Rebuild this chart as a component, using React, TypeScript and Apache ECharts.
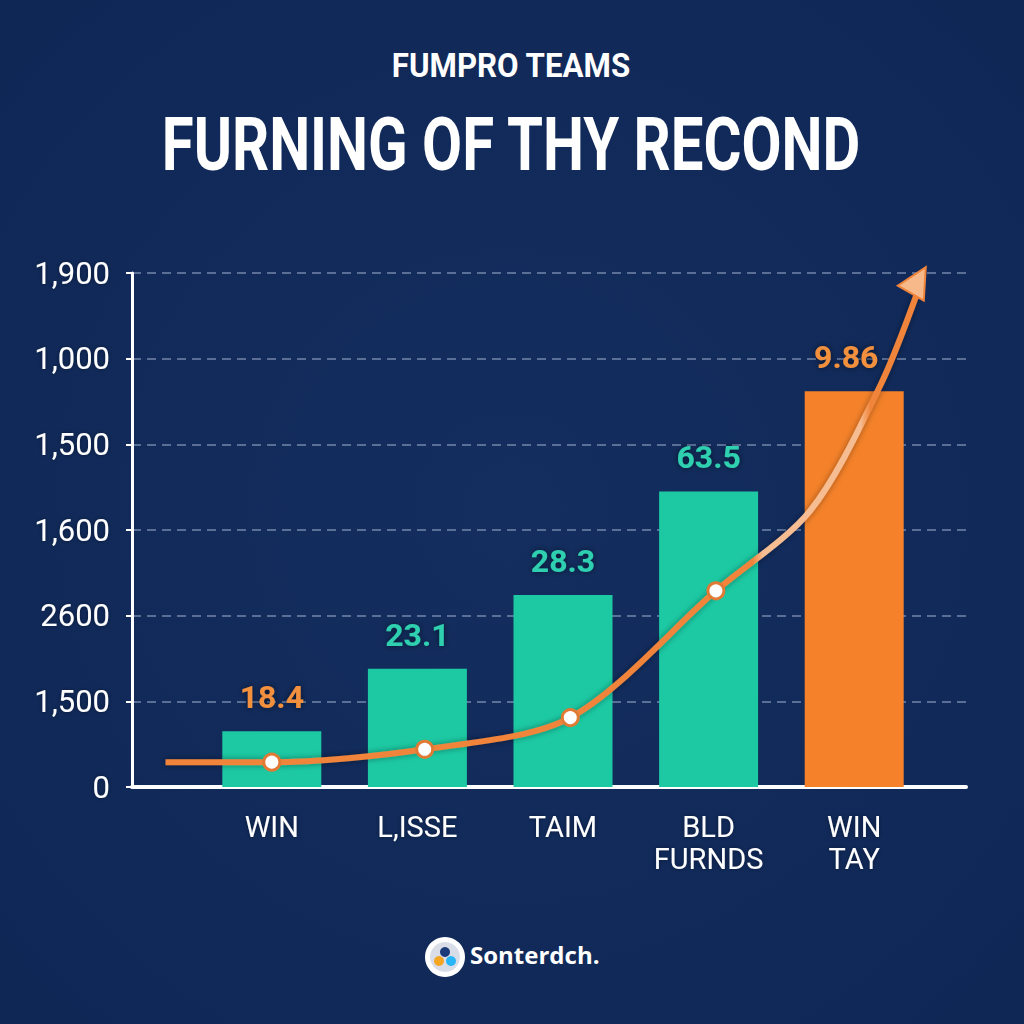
import React, { useEffect, useRef } from "react";
import * as echarts from "echarts";

const categories = ["WIN", "L,ISSE", "TAIM", "BLD\nFURNDS", "WIN\nTAY"];
const yTickLabels = ["0", "1,500", "2600", "1,600", "1,500", "1,000", "1,900"];
const barValues = [0.65, 1.38, 2.24, 3.45, 4.62];
const barLabels = ["18.4", "23.1", "28.3", "63.5", "9.86"];
const barColors = ["#1cc9a3", "#1cc9a3", "#1cc9a3", "#1cc9a3", "#f5822a"];
const labelColors = ["#f2903d", "#2fd0b0", "#2fd0b0", "#2fd0b0", "#f2903d"];
// trend curve points: [x position in category units (0 = first bar), y value]
const trendX = [-0.73, 0, 1.05, 2.05, 3.05, 3.7, 4.18, 4.44];
const trendY = [0.29, 0.29, 0.44, 0.81, 2.29, 3.23, 4.69, 5.8];
const markerIdx = [1, 2, 3, 4];

const FONT = "Roboto, 'Noto Sans', sans-serif";

export default function App() {
  const ref = useRef<HTMLDivElement>(null);
  useEffect(() => {
    document.body.style.margin = "0";
    const chart = echarts.init(ref.current!, null, { renderer: "svg" });
    const n = trendX.length;
    const trendData = trendX.map((x, i) => {
      const item: any = { value: [x, trendY[i]] };
      if (markerIdx.includes(i)) {
        item.symbol = "circle";
        item.symbolSize = 16;
      } else if (i === n - 1) {
        item.symbol = "triangle";
        item.symbolSize = [30, 30];
        item.symbolRotate = -30;
        item.symbolOffset = [0, -10];
        item.itemStyle = { color: "#f7b98a", borderColor: "#f0843a", borderWidth: 2 };
      } else {
        item.symbol = "none";
      }
      return item;
    });
    // value axis on grid 0 aligned so that integer x hits category centres of grid 1
    const gridL = 132;
    const gridW = 1024 - 132 - 58;
    const catL = 199;
    const catW = 1024 - 199 - 97;
    const step = catW / categories.length;
    const xMin = -(catL + step / 2 - gridL) / step;
    const xMax = xMin + gridW / step;

    const orange = "#f0843a";
    const peach = "#f7bd92";
    const option: any = {
      animation: false,
      backgroundColor: {
        type: "radial",
        x: 0.5,
        y: 0.5,
        r: 0.8,
        colorStops: [
          { offset: 0, color: "#132e5f" },
          { offset: 1, color: "#0f2654" },
        ],
      },
      grid: [
        { left: gridL, right: 58, top: 273, bottom: 237 },
        { left: catL, right: 97, top: 273, bottom: 237 },
      ],
      xAxis: [
        {
          gridIndex: 0,
          type: "value",
          min: xMin,
          max: xMax,
          axisLine: { show: true, onZero: false, lineStyle: { color: "#ffffff", width: 4 } },
          axisTick: { show: false },
          axisLabel: { show: false },
          splitLine: { show: false },
        },
        {
          gridIndex: 1,
          type: "category",
          data: categories,
          axisLine: { show: false },
          axisTick: { show: false },
          axisLabel: {
            interval: 0,
            color: "#ffffff",
            fontFamily: FONT,
            fontSize: 29,
            lineHeight: 32,
            margin: 24,
            verticalAlign: "top",
            textShadowColor: "rgba(0,0,0,0.4)",
            textShadowBlur: 4,
          },
        },
      ],
      yAxis: [
        {
          gridIndex: 0,
          type: "value",
          min: 0,
          max: 6,
          interval: 1,
          axisLine: { show: true, onZero: false, lineStyle: { color: "#ffffff", width: 3 } },
          axisTick: { show: true, length: 6, lineStyle: { color: "#ffffff", width: 2 } },
          axisLabel: {
            color: "#ffffff",
            fontFamily: FONT,
            fontSize: 31,
            margin: 22,
            formatter: (v: number) => yTickLabels[Math.round(v)] ?? "",
            textShadowColor: "rgba(0,0,0,0.4)",
            textShadowBlur: 4,
          },
          splitLine: {
            show: true,
            lineStyle: { color: "#7487ab", width: 1.5, type: [9, 6] },
          },
        },
        {
          gridIndex: 1,
          type: "value",
          min: 0,
          max: 6,
          show: false,
          splitLine: { show: false },
        },
      ],
      series: [
        {
          type: "bar",
          xAxisIndex: 1,
          yAxisIndex: 1,
          barWidth: 99,
          data: barValues.map((v, i) => ({
            value: v,
            itemStyle: { color: barColors[i] },
            label: {
              show: true,
              position: "top",
              distance: 18,
              formatter: barLabels[i],
              color: labelColors[i],
              fontFamily: FONT,
              fontWeight: "bold",
              fontSize: 32,
              textShadowColor: "rgba(0,0,0,0.55)",
              textShadowBlur: 6,
              offset: i === 4 ? [-8, 0] : [0, 0],
            },
          })),
          z: 2,
        },
        {
          type: "line",
          xAxisIndex: 0,
          yAxisIndex: 0,
          smooth: 0.3,
          data: trendData,
          lineStyle: {
            color: {
              type: "linear",
              x: 0,
              y: 0,
              x2: 1024,
              y2: 0,
              global: true,
              colorStops: [
                { offset: 0, color: orange },
                { offset: 0.735, color: orange },
                { offset: 0.745, color: peach },
                { offset: 0.84, color: peach },
                { offset: 0.85, color: orange },
                { offset: 1, color: orange },
              ],
            },
            width: 6,
            shadowColor: "rgba(0,0,0,0.4)",
            shadowBlur: 6,
          },
          itemStyle: { color: "#ffffff", borderColor: "#e07a35", borderWidth: 3 },
          z: 5,
        },
      ],
      graphic: [
        {
          type: "text",
          x: 511,
          y: 66,
          scaleX: 0.92,
          style: {
            text: "FUMPRO TEAMS",
            textAlign: "center",
            textVerticalAlign: "middle",
            fill: "#ffffff",
            fontFamily: FONT,
            fontWeight: "bold",
            fontSize: 34,
            shadowColor: "rgba(0,0,0,0.5)",
            shadowBlur: 6,
          },
        },
        {
          type: "text",
          x: 511,
          y: 145,
          scaleX: 0.83,
          scaleY: 1.05,
          style: {
            text: "FURNING OF THY RECOND",
            textAlign: "center",
            textVerticalAlign: "middle",
            fill: "#ffffff",
            fontFamily: FONT,
            fontWeight: "bold",
            fontSize: 70,
            shadowColor: "rgba(0,0,0,0.6)",
            shadowBlur: 8,
            shadowOffsetY: 3,
          },
        },
        {
          type: "group",
          left: 425,
          top: 937,
          children: [
            { type: "circle", shape: { cx: 20, cy: 20, r: 20 }, style: { fill: "#ffffff" } },
            { type: "circle", shape: { cx: 20, cy: 20, r: 15 }, style: { fill: "#d9dde8" } },
            { type: "circle", shape: { cx: 14, cy: 24, r: 5 }, style: { fill: "#f5a623" } },
            { type: "circle", shape: { cx: 26, cy: 24, r: 5 }, style: { fill: "#29b6f6" } },
            { type: "circle", shape: { cx: 20, cy: 15, r: 5 }, style: { fill: "#1a3a7a" } },
          ],
        },
        {
          type: "text",
          left: 470,
          top: 942,
          style: {
            text: "Sonterdch.",
            fill: "#ffffff",
            fontFamily: "'Open Sans', sans-serif",
            fontWeight: "bold",
            fontSize: 24,
          },
        },
      ],
    };
    chart.setOption(option);
    return () => chart.dispose();
  }, []);
  return <div ref={ref} style={{ width: 1024, height: 1024 }} />;
}
